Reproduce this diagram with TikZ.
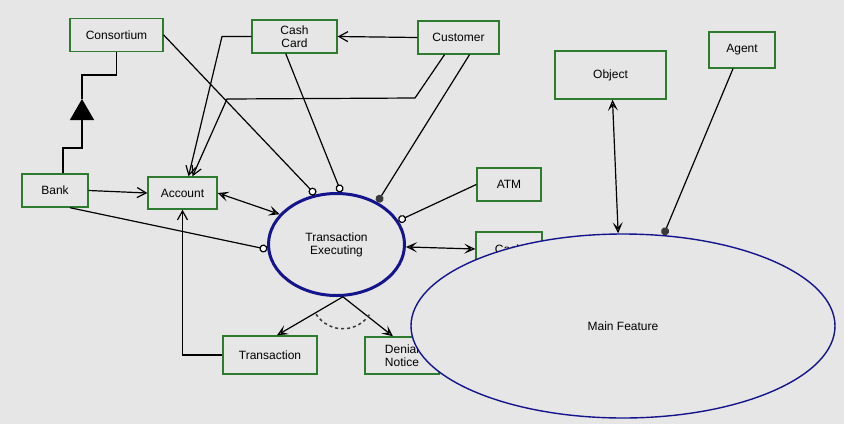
\documentclass[tikz,border=0pt]{standalone}
\usepackage{fontspec}
\setmainfont{Liberation Sans}
\usetikzlibrary{arrows.meta}
\usetikzlibrary{shapes.geometric}
\definecolor{BoxGreen}{HTML}{2E7A2E}
\definecolor{DarkBlue}{HTML}{14148C}
\definecolor{BackGray}{HTML}{E6E6E6}
\definecolor{DotGray}{HTML}{3A3A3A}
\tikzset{
  box/.style={draw=BoxGreen, line width=1.4pt, fill=BackGray, inner sep=0pt,
    align=center, font=\fontsize{12}{13}\selectfont},
  link/.style={line width=1.2pt, black},
  barb/.style={-{Straight Barb[length=9pt,width=10pt]}},
  openhead/.style={-{Stealth[open,length=11pt,width=10pt,inset=5pt]}},
  twohead/.style={{Stealth[open,length=11pt,width=10pt,inset=5pt]}-{Stealth[open,length=11pt,width=10pt,inset=5pt]}},
  ringend/.style={-{Circle[open,length=8pt,width=8pt,fill=white]}},
  dotend/.style={-{Circle[length=8pt,width=8pt,DotGray]}}
}
\begin{document}
\begin{tikzpicture}[x=1pt, y=-1pt]
  \fill[BackGray] (0,0) rectangle (844,424);
  \useasboundingbox (0,0) rectangle (844,424);

  \node[box, minimum width=93pt, minimum height=33pt] (Consortium) at (116.5,35) {Consortium};
  \node[box, minimum width=66pt, minimum height=33pt] (Bank) at (55,190.5) {Bank};
  \node[box, minimum width=69pt, minimum height=32pt] (Account) at (182.5,193) {Account};
  \node[box, minimum width=85pt, minimum height=33pt] (CashCard) at (294.5,36.5) {Cash\\Card};
  \node[box, minimum width=81pt, minimum height=33pt] (Customer) at (458.5,37.5) {Customer};
  \node[box, minimum width=64pt, minimum height=33pt] (Atm) at (509,184.5) {ATM};
  \node[box, minimum width=66pt, minimum height=34pt] (CashBox) at (509,249) {Cash};
  \node[box, minimum width=94pt, minimum height=38pt] (Transaction) at (270,355) {Transaction};
  \node[box, minimum width=74pt, minimum height=37pt] (Denial) at (402,355.5) {Denial\\Notice};
  \node[box, minimum width=111pt, minimum height=48pt] (Object) at (610.5,75) {Object};
  \node[box, minimum width=66pt, minimum height=36pt] (Agent) at (742,50) {Agent};

  \node[ellipse, draw=DarkBlue, line width=3pt, minimum width=136pt, minimum height=102pt,
    inner sep=0pt, align=center, font=\fontsize{12}{13}\selectfont] (TransExec) at (336.5,244.5)
    {Transaction\\Executing};

  % generalisation Bank -> Consortium
  \coordinate (GenTip) at (82,99);
  \draw[link, -{Triangle[length=21pt,width=24pt]}] ([xshift=8pt]Bank.north) |- (82,148) -- (GenTip);
  \draw[link] (Consortium.south) |- (82,75) -- (GenTip);

  \draw[link, barb] (Bank.east) -- (Account.west);
  \draw[link, ringend] (Bank.-49) -- (TransExec.184);
  \draw[link, twohead] (Account.east) -- (TransExec.152);
  \draw[link, ringend] (Consortium.east) -- (TransExec.113);
  \draw[link, ringend] (CashCard.-117) -- (TransExec.85);
  \draw[link, dotend] ([xshift=11pt]Customer.south) -- (TransExec.46);
  \draw[link, barb] (Customer.west) -- (CashCard.east);
  \draw[link, barb] (CashCard.west) -- (222,36.5) -- ([xshift=6pt]Account.north);
  \draw[link, barb] ([xshift=-14pt]Customer.south) -- (415,98) -- (227,99) -- ([xshift=10pt]Account.north);
  \draw[link, ringend] (Atm.west) -- (TransExec.21);
  \draw[link, twohead] (TransExec.-2) -- (CashBox.west);
  \draw[link, barb] (Transaction.west) -| (Account.south);

  % choice between the two outcomes
  \coordinate (Fork) at (TransExec.-83);
  \draw[link, openhead] (Fork) -- ([xshift=7pt]Transaction.north);
  \draw[link, openhead] (Fork) -- ([xshift=-9pt]Denial.north);
  \draw[DotGray, dashed, line width=1.5pt] (Fork) ++(147:32) arc[start angle=147, end angle=33, radius=32];

  \node[ellipse, draw=DarkBlue, line width=1.4pt, fill=BackGray, minimum width=424pt,
    minimum height=184pt, inner sep=0pt, font=\fontsize{12}{13}\selectfont] (MainFeature) at (623,326)
    {Main Feature};

  \draw[link, twohead] ([xshift=2pt]Object.south) -- (MainFeature.93);
  \draw[link, dotend] ([xshift=-9pt]Agent.south) -- (MainFeature.66);
\end{tikzpicture}
\end{document}
